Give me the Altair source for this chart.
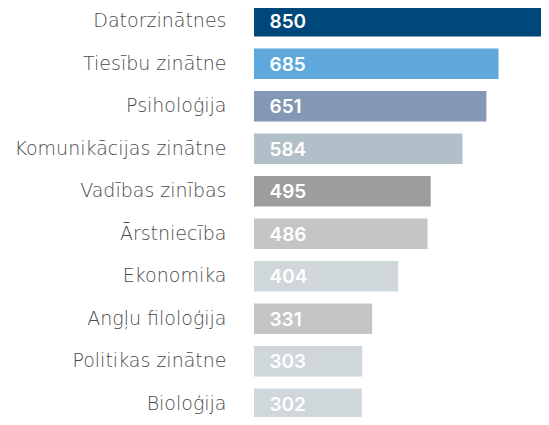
import altair as alt
import pandas as pd

categories = ["Datorzinātnes", "Tiesību zinātne", "Psiholoģija", "Komunikācijas zinātne",
              "Vadības zinības", "Ārstniecība", "Ekonomika", "Angļu filoloģija",
              "Politikas zinātne", "Bioloģija"]
values = [850, 685, 651, 584, 495, 486, 404, 331, 303, 302]
colors = ["#00487a", "#5fa8dc", "#8298b4", "#b1bfc8", "#9d9d9d",
          "#c4c5c4", "#cfd7db", "#c4c5c4", "#cfd7db", "#cfd7db"]

df = pd.DataFrame({"cat": categories, "val": values, "col": colors})

LABEL_FONT = "DejaVu Sans"
VALUE_FONT = "Inter"

y = alt.Y("cat:N", sort=categories, title=None,
          scale=alt.Scale(range=[-3, 410], paddingInner=0.285, paddingOuter=0),
          axis=alt.Axis(domain=False, ticks=False, labelPadding=28, labelFontSize=19,
                        labelFontWeight=300,
                        labelColor="#4a4a4a", labelFont=LABEL_FONT, labelLimit=0))
x = alt.X("val:Q", title=None, axis=None,
          scale=alt.Scale(domain=[0, 804], nice=False))

bars = alt.Chart(df).mark_bar().encode(
    y=y, x=x, color=alt.Color("col:N", scale=None)
)
text = alt.Chart(df).mark_text(align="left", baseline="middle", dx=15.5, dy=1,
                               font=VALUE_FONT, fontWeight=600, fontSize=19,
                               color="white").encode(
    y=alt.Y("cat:N", sort=categories),
    x=alt.datum(0),
    text="val:Q"
)

chart = (bars + text).properties(
    width=287, height=408,
    autosize="none",
    padding={"left": 246, "top": 1, "right": 0, "bottom": 0}
).configure_view(stroke=None)

chart.save("out.html", embed_options={"renderer": "svg", "actions": False})
